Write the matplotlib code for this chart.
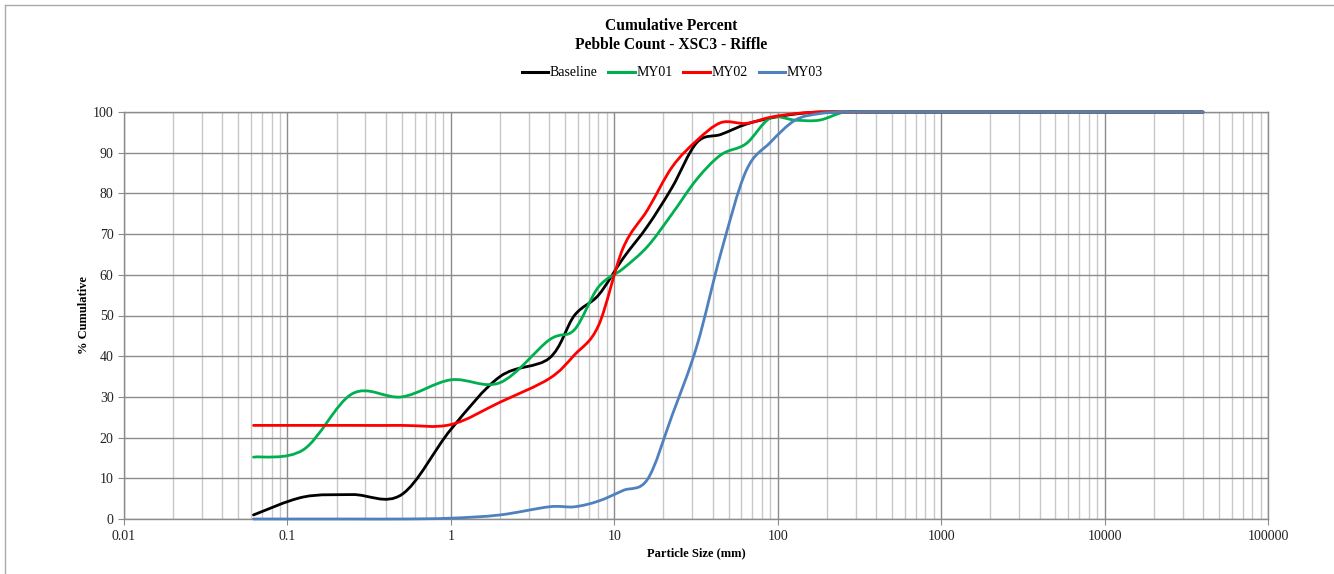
import numpy as np
import matplotlib
matplotlib.use("Agg")
import matplotlib.pyplot as plt
from matplotlib.path import Path
from matplotlib.patches import PathPatch
from matplotlib.lines import Line2D
from matplotlib.ticker import LogLocator, FixedLocator, NullFormatter

plt.rcParams['font.family'] = ['Liberation Serif', 'DejaVu Serif']

# particle sizes (mm)
sizes = [0.062, 0.125, 0.25, 0.5, 1, 2, 4, 5.7, 8, 11.3, 16, 22.6, 32, 45,
         64, 90, 128, 180, 256, 362, 512, 1024, 2048, 4096, 40000]

baseline = [1, 5.4, 6, 6, 22, 35, 39.5, 50, 55, 64, 72, 81.5, 92.5, 94.5,
            97, 98.5, 99.5, 100, 100, 100, 100, 100, 100, 100, 100]
my01 = [15.2, 17, 30.8, 30, 34.2, 33.5, 44, 46.5, 57, 61.5, 67, 75, 83.5, 89.5,
        92.2, 98.5, 98, 98, 100, 100, 100, 100, 100, 100, 100]
my02 = [23, 23, 23, 23, 23.2, 28.7, 34.5, 40.3, 47.5, 66.5, 76, 86.5, 93, 97.4,
        97.2, 98.7, 99.6, 100, 100, 100, 100, 100, 100, 100, 100]
my03 = [0, 0, 0, 0, 0.2, 1, 3, 3, 4.4, 7, 9.8, 25.5, 42.5, 65.5,
        85.5, 92.5, 98, 99.6, 100, 100, 100, 100, 100, 100, 100]

series = [("Baseline", baseline, "#000000"),
          ("MY01", my01, "#00B050"),
          ("MY02", my02, "#FF0000"),
          ("MY03", my03, "#4F81BD")]


def smooth_path(xs, ys):
    # Excel-style smoothed line: cubic Bezier segments built in log-x space
    lx = np.log10(np.asarray(xs, float))
    y = np.asarray(ys, float)
    n = len(lx)
    verts = [(lx[0], y[0])]
    codes = [Path.MOVETO]
    for i in range(n - 1):
        a = max(i - 1, 0)
        b = min(i + 2, n - 1)
        c1 = (lx[i] + (lx[i + 1] - lx[a]) / 6, y[i] + (y[i + 1] - y[a]) / 6)
        c2 = (lx[i + 1] - (lx[b] - lx[i]) / 6, y[i + 1] - (y[b] - y[i]) / 6)
        verts += [c1, c2, (lx[i + 1], y[i + 1])]
        codes += [Path.CURVE4] * 3
    verts = [(10 ** vx, vy) for vx, vy in verts]
    return Path(verts, codes)


fig = plt.figure(figsize=(13.34, 5.74), dpi=100)
ax = fig.add_axes([124 / 1334, 55 / 574, 1144 / 1334, 407 / 574])

ax.set_xscale('log')
ax.set_xlim(0.01, 100000)
ax.set_ylim(0, 100)

major_c = '#8c8c8c'
minor_c = '#c8c8c8'
ax.xaxis.set_minor_locator(LogLocator(base=10, subs=np.arange(2, 10), numticks=100))
ax.xaxis.set_minor_formatter(NullFormatter())
ax.set_xticks([0.01, 0.1, 1, 10, 100, 1000, 10000, 100000])
ax.set_xticklabels(['0.01', '0.1', '1', '10', '100', '1000', '10000', '100000'])
ax.yaxis.set_major_locator(FixedLocator(np.arange(0, 101, 10)))

ax.grid(which='major', axis='both', color=major_c, lw=1.0)
ax.grid(which='minor', axis='x', color=minor_c, lw=1.0)
ax.set_axisbelow(True)
for s in ax.spines.values():
    s.set_color(major_c)
    s.set_linewidth(1.0)

ax.tick_params(axis='both', which='major', direction='out', length=4,
               color=major_c, labelsize=10, labelcolor='#222222')
ax.tick_params(axis='x', which='major', pad=4)
ax.tick_params(axis='x', which='minor', length=0)

handles = []
for name, vals, col in series:
    patch = PathPatch(smooth_path(sizes, vals), transform=ax.transData,
                      facecolor='none', edgecolor=col, lw=2.0,
                      capstyle='round', joinstyle='round', clip_on=False, zorder=3)
    ax.add_patch(patch)
    handles.append(Line2D([], [], color=col, lw=2.2, label=name))

ax.set_xlabel('Particle Size (mm)', fontsize=9, fontweight='bold', labelpad=3)
ax.set_ylabel('% Cumulative', fontsize=9, fontweight='bold', labelpad=2)

fig.text(0.503, 0.954, 'Cumulative Percent', ha='center', va='center',
         fontsize=11.2, fontweight='bold')
fig.text(0.503, 0.922, 'Pebble Count - XSC3 - Riffle', ha='center', va='center',
         fontsize=11.2, fontweight='bold')

fig.legend(handles=handles, loc='center', bbox_to_anchor=(0.504, 0.873), ncol=4,
           frameon=False, fontsize=10, handlelength=1.9, handletextpad=0.15,
           columnspacing=0.75)

# chart border (left and top)
fig.add_artist(Line2D([5 / 1334, 5 / 1334], [0, 1 - 5 / 574],
                      transform=fig.transFigure, color='#aaaaaa', lw=1))
fig.add_artist(Line2D([5 / 1334, 1], [1 - 5 / 574, 1 - 5 / 574],
                      transform=fig.transFigure, color='#aaaaaa', lw=1))

fig.savefig('out.png', dpi=100)
